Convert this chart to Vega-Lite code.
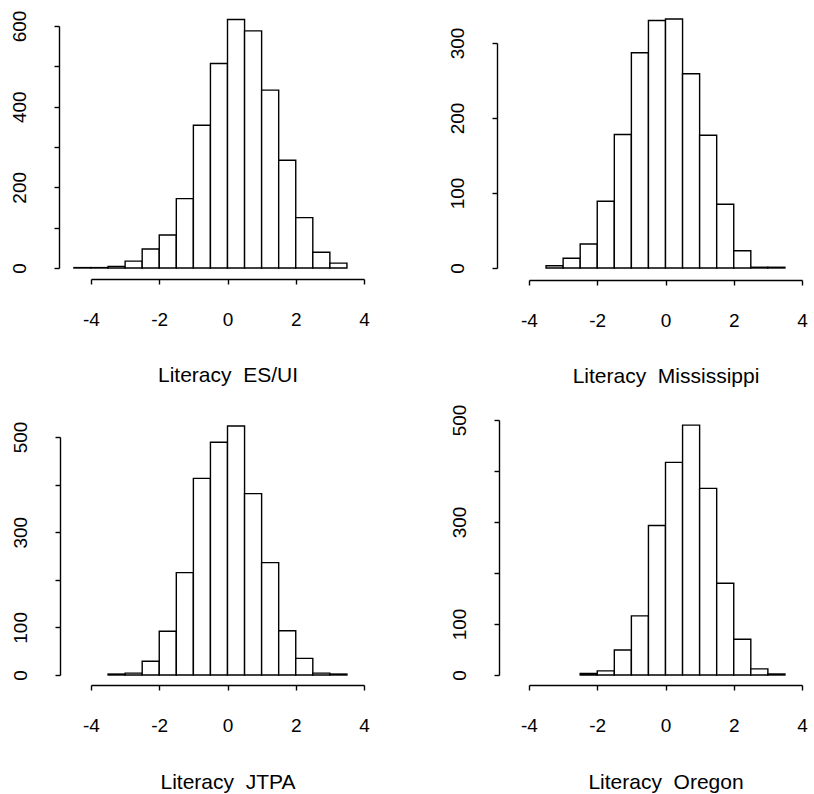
{
  "$schema": "https://vega.github.io/schema/vega-lite/v6.json",
  "background": "white",
  "padding": {"top": 10, "left": 9, "right": 5, "bottom": 5},
  "config": {
    "view": {"stroke": null},
    "font": "Liberation Sans",
    "axis": {
      "grid": false,
      "domainColor": "black",
      "domainWidth": 1.4,
      "tickColor": "black",
      "tickWidth": 1.4,
      "tickSize": 5,
      "labelColor": "black",
      "labelFont": "Liberation Sans",
      "labelFontSize": 19,
      "labelOverlap": false,
      "labelFlush": false,
      "titleColor": "black",
      "titleFont": "Liberation Sans",
      "titleFontSize": 21,
      "titleFontWeight": "normal"
    }
  },
  "datasets": {
    "esui": [
      {"b0": -4.5, "b1": -4.0, "n": 1},
      {"b0": -4.0, "b1": -3.5, "n": 1},
      {"b0": -3.5, "b1": -3.0, "n": 4},
      {"b0": -3.0, "b1": -2.5, "n": 17},
      {"b0": -2.5, "b1": -2.0, "n": 47},
      {"b0": -2.0, "b1": -1.5, "n": 82},
      {"b0": -1.5, "b1": -1.0, "n": 172},
      {"b0": -1.0, "b1": -0.5, "n": 354},
      {"b0": -0.5, "b1": 0.0, "n": 507},
      {"b0": 0.0, "b1": 0.5, "n": 616},
      {"b0": 0.5, "b1": 1.0, "n": 588},
      {"b0": 1.0, "b1": 1.5, "n": 441},
      {"b0": 1.5, "b1": 2.0, "n": 267},
      {"b0": 2.0, "b1": 2.5, "n": 125},
      {"b0": 2.5, "b1": 3.0, "n": 39},
      {"b0": 3.0, "b1": 3.5, "n": 12}
    ],
    "miss": [
      {"b0": -3.5, "b1": -3.0, "n": 3},
      {"b0": -3.0, "b1": -2.5, "n": 13},
      {"b0": -2.5, "b1": -2.0, "n": 32},
      {"b0": -2.0, "b1": -1.5, "n": 89},
      {"b0": -1.5, "b1": -1.0, "n": 178},
      {"b0": -1.0, "b1": -0.5, "n": 287},
      {"b0": -0.5, "b1": 0.0, "n": 330},
      {"b0": 0.0, "b1": 0.5, "n": 332},
      {"b0": 0.5, "b1": 1.0, "n": 259},
      {"b0": 1.0, "b1": 1.5, "n": 177},
      {"b0": 1.5, "b1": 2.0, "n": 85},
      {"b0": 2.0, "b1": 2.5, "n": 23},
      {"b0": 2.5, "b1": 3.0, "n": 1},
      {"b0": 3.0, "b1": 3.5, "n": 1}
    ],
    "jtpa": [
      {"b0": -3.5, "b1": -3.0, "n": 2},
      {"b0": -3.0, "b1": -2.5, "n": 4},
      {"b0": -2.5, "b1": -2.0, "n": 29},
      {"b0": -2.0, "b1": -1.5, "n": 92},
      {"b0": -1.5, "b1": -1.0, "n": 215},
      {"b0": -1.0, "b1": -0.5, "n": 413},
      {"b0": -0.5, "b1": 0.0, "n": 489},
      {"b0": 0.0, "b1": 0.5, "n": 523},
      {"b0": 0.5, "b1": 1.0, "n": 381},
      {"b0": 1.0, "b1": 1.5, "n": 236},
      {"b0": 1.5, "b1": 2.0, "n": 93},
      {"b0": 2.0, "b1": 2.5, "n": 35},
      {"b0": 2.5, "b1": 3.0, "n": 4},
      {"b0": 3.0, "b1": 3.5, "n": 2}
    ],
    "oregon": [
      {"b0": -2.5, "b1": -2.0, "n": 3},
      {"b0": -2.0, "b1": -1.5, "n": 8},
      {"b0": -1.5, "b1": -1.0, "n": 49},
      {"b0": -1.0, "b1": -0.5, "n": 116},
      {"b0": -0.5, "b1": 0.0, "n": 293},
      {"b0": 0.0, "b1": 0.5, "n": 417},
      {"b0": 0.5, "b1": 1.0, "n": 490},
      {"b0": 1.0, "b1": 1.5, "n": 366},
      {"b0": 1.5, "b1": 2.0, "n": 180},
      {"b0": 2.0, "b1": 2.5, "n": 70},
      {"b0": 2.5, "b1": 3.0, "n": 12},
      {"b0": 3.0, "b1": 3.5, "n": 2}
    ]
  },
  "columns": 2,
  "spacing": {"row": 152, "column": 165},
  "bounds": "flush",
  "concat": [
    {
      "width": 273,
      "height": 242,
      "data": {"name": "esui"},
      "mark": {"type": "rect", "fill": "white", "stroke": "black", "strokeWidth": 1.4},
      "encoding": {
        "x": {"field": "b0", "type": "quantitative", "scale": {"domain": [-4, 4]},
          "axis": {"values": [-4, -2, 0, 2, 4], "labelExpr": "toString(datum.value)", "offset": 11, "labelPadding": 26, "title": "Literacy\u00a0 ES/UI", "titlePadding": 35}},
        "x2": {"field": "b1"},
        "y": {"field": "n", "type": "quantitative", "scale": {"domain": [0, 600]},
          "axis": {"values": [0, 100, 200, 300, 400, 500, 600], "labelExpr": "datum.value % 200 == 0 ? datum.label : ''", "offset": 32, "labelAngle": 270, "labelAlign": "center", "labelBaseline": "alphabetic", "labelPadding": 29, "title": null}},
        "y2": {"datum": 0}
      }
    },
    {
      "width": 273,
      "height": 242,
      "data": {"name": "miss"},
      "mark": {"type": "rect", "fill": "white", "stroke": "black", "strokeWidth": 1.4},
      "encoding": {
        "x": {"field": "b0", "type": "quantitative", "scale": {"domain": [-4, 4]},
          "axis": {"values": [-4, -2, 0, 2, 4], "labelExpr": "toString(datum.value)", "offset": 12, "labelPadding": 26, "title": "Literacy\u00a0 Mississippi", "titlePadding": 35}},
        "x2": {"field": "b1"},
        "y": {"field": "n", "type": "quantitative", "scale": {"domain": [0, 300], "range": [242, 17]},
          "axis": {"values": [0, 100, 200, 300], "offset": 32, "labelAngle": 270, "labelAlign": "center", "labelBaseline": "alphabetic", "labelPadding": 29, "title": null}},
        "y2": {"datum": 0}
      }
    },
    {
      "width": 273,
      "height": 255,
      "data": {"name": "jtpa"},
      "mark": {"type": "rect", "fill": "white", "stroke": "black", "strokeWidth": 1.4},
      "encoding": {
        "x": {"field": "b0", "type": "quantitative", "scale": {"domain": [-4, 4]},
          "axis": {"values": [-4, -2, 0, 2, 4], "labelExpr": "toString(datum.value)", "offset": 10, "labelPadding": 26, "title": "Literacy\u00a0 JTPA", "titlePadding": 36}},
        "x2": {"field": "b1"},
        "y": {"field": "n", "type": "quantitative", "scale": {"domain": [0, 500], "range": [255, 17]},
          "axis": {"values": [0, 100, 200, 300, 400, 500], "labelExpr": "datum.value == 0 || datum.value == 100 || datum.value == 300 || datum.value == 500 ? datum.label : ''", "offset": 31, "labelAngle": 270, "labelAlign": "center", "labelBaseline": "alphabetic", "labelPadding": 29, "title": null}},
        "y2": {"datum": 0}
      }
    },
    {
      "width": 273,
      "height": 255,
      "data": {"name": "oregon"},
      "mark": {"type": "rect", "fill": "white", "stroke": "black", "strokeWidth": 1.4},
      "encoding": {
        "x": {"field": "b0", "type": "quantitative", "scale": {"domain": [-4, 4]},
          "axis": {"values": [-4, -2, 0, 2, 4], "labelExpr": "toString(datum.value)", "offset": 10, "labelPadding": 26, "title": "Literacy\u00a0 Oregon", "titlePadding": 36}},
        "x2": {"field": "b1"},
        "y": {"field": "n", "type": "quantitative", "scale": {"domain": [0, 500]},
          "axis": {"values": [0, 100, 200, 300, 400, 500], "labelExpr": "datum.value == 0 || datum.value == 100 || datum.value == 300 || datum.value == 500 ? datum.label : ''", "offset": 30, "labelAngle": 270, "labelAlign": "center", "labelBaseline": "alphabetic", "labelPadding": 29, "title": null}},
        "y2": {"datum": 0}
      }
    }
  ]
}
